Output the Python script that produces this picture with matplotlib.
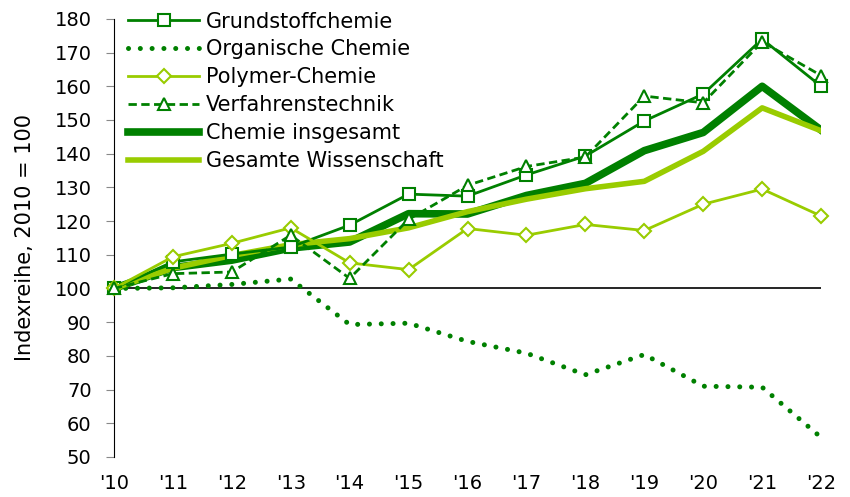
import matplotlib.pyplot as plt

years = ["'10", "'11", "'12", "'13", "'14", "'15", "'16", "'17", "'18", "'19", "'20", "'21", "'22"]

grundstoff = [100, 107.9, 110.2, 112.3, 118.8, 128.0, 127.4, 133.7, 139.3, 149.7, 157.7, 174.0, 160.0]
organisch = [100, 100.2, 101.2, 102.8, 89.3, 89.7, 84.3, 80.8, 74.4, 80.4, 71.0, 70.7, 55.8]
polymer = [100, 109.4, 113.4, 118.0, 107.6, 105.6, 117.8, 115.8, 119.0, 117.2, 125.0, 129.5, 121.5]
verfahren = [100, 104.4, 104.9, 115.8, 103.0, 120.5, 130.6, 136.2, 139.0, 157.1, 155.1, 173.2, 163.2]
chemie = [100, 106.2, 108.4, 112.0, 113.8, 122.2, 122.1, 127.6, 131.2, 140.9, 146.3, 160.0, 147.0]
wissenschaft = [100, 106.0, 109.8, 113.0, 114.8, 118.0, 122.8, 126.5, 129.6, 131.8, 140.7, 153.6, 146.8]

dark = '#008000'
light = '#99cc00'

plt.rcParams['font.family'] = ['DejaVu Sans']
plt.rcParams['font.size'] = 14

fig = plt.figure(figsize=(8.5, 4.97), dpi=100)
ax = fig.add_axes([0.134, 0.0805, 0.832, 0.8815])

x = list(range(len(years)))

ax.plot(x, grundstoff, color=dark, lw=2, marker='s', ms=8.5, mfc='white',
        mec=dark, mew=1.5, label='Grundstoffchemie', clip_on=False, zorder=4)
ax.plot(x, organisch, color=dark, lw=3.6, ls=(0, (0.01, 2.35)), dash_capstyle='round',
        label='Organische Chemie', clip_on=False, zorder=3)
ax.plot(x, polymer, color=light, lw=2, marker='D', ms=7, mfc='white',
        mec=light, mew=1.5, label='Polymer-Chemie', clip_on=False, zorder=4)
ax.plot(x, verfahren, color=dark, lw=2, ls=(0, (3, 1.6)), marker='^', ms=9, mfc='white',
        mec=dark, mew=1.5, label='Verfahrenstechnik', clip_on=False, zorder=4)
ax.plot(x, chemie, color=dark, lw=5.5, label='Chemie insgesamt', zorder=3)
ax.plot(x, wissenschaft, color=light, lw=4, label='Gesamte Wissenschaft', zorder=3)

ax.axhline(100, color='black', lw=1.2, zorder=2)

ax.set_xlim(0, 12)
ax.set_ylim(50, 180)
ax.set_yticks(range(50, 181, 10))
ax.set_xticks(x)
ax.set_xticklabels(years)
ax.tick_params(axis='x', length=0, pad=12)
ax.tick_params(axis='y', length=6, color='#888888', pad=10)
for s in ['top', 'right', 'bottom']:
    ax.spines[s].set_visible(False)
ax.spines['left'].set_color('black')
ax.set_ylabel('Indexreihe, 2010 = 100', fontsize=15, labelpad=14)

ax.legend(loc='upper left', bbox_to_anchor=(0.0, 1.05), frameon=False, fontsize=15,
          handlelength=3.4, handletextpad=0.3, labelspacing=0.38, borderaxespad=0.3)

fig.savefig('out.png', dpi=100)
